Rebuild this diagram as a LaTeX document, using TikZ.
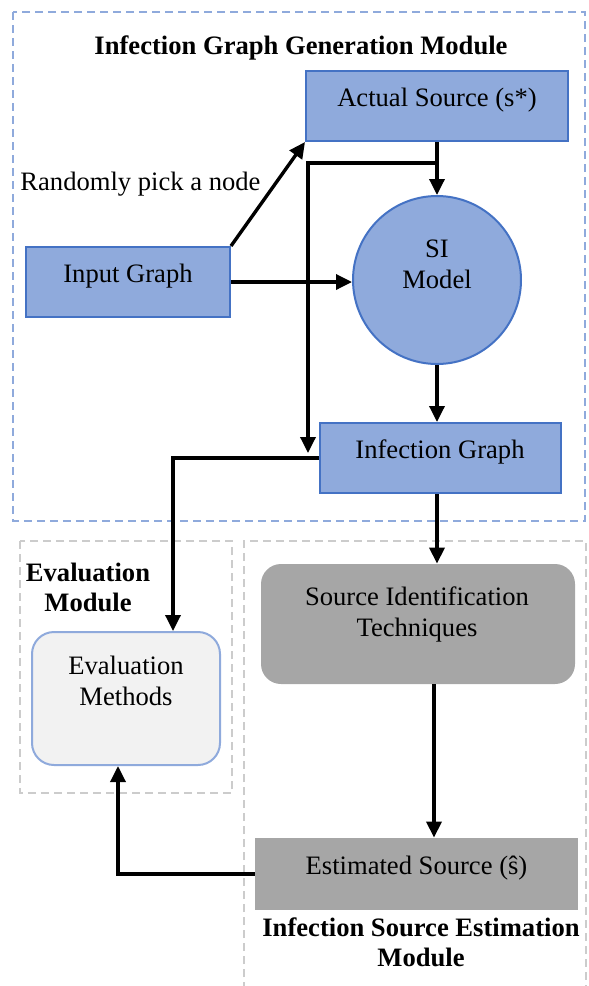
\documentclass[tikz,border=0pt]{standalone}
\usepackage{fontspec}
\setmainfont{Liberation Serif}
\usepackage{tikz}
\usetikzlibrary{shapes.geometric,arrows.meta}
\usetikzlibrary{positioning}
\usepackage{xcolor}
\definecolor{boxblue}{HTML}{8FAADC}
\definecolor{edgeblue}{HTML}{4472C4}
\definecolor{boxgray}{HTML}{A6A6A6}
\definecolor{dashgray}{HTML}{CCCCCC}
\definecolor{evalfill}{HTML}{F2F2F2}

\begin{document}
\begin{tikzpicture}[
  x=0.5pt, y=-0.5pt,
  every node/.style={font=\fontsize{13.3pt}{15.5pt}\selectfont},
  >={Triangle[length=8pt,width=7.5pt]},
  flow/.style={->, line width=1.7pt},
  bluebox/.style={draw=edgeblue, fill=boxblue, line width=1pt, rectangle, text height=0.6em, text depth=0.6em},
  graybox/.style={fill=boxgray, rectangle, text height=0.6em, text depth=0.6em},
  simodel/.style={draw=edgeblue, fill=boxblue, line width=1pt, circle, minimum size=84pt, inner sep=0pt},
  techbox/.style={fill=boxgray, rectangle, rounded corners=10pt, minimum width=157pt, minimum height=60pt},
  evalbox/.style={draw=boxblue, fill=evalfill, line width=1pt, rectangle, rounded corners=11pt, minimum width=94pt, minimum height=66.5pt},
  caption/.style={align=center, inner sep=0pt},
  modtitle/.style={align=center, inner sep=0pt, font=\fontsize{13.3pt}{15pt}\selectfont\bfseries},
  bluedash/.style={draw=boxblue, line width=1pt, dash pattern=on 4pt off 2.5pt},
  graydash/.style={draw=dashgray, line width=1pt, dash pattern=on 4pt off 2.5pt}
]
\useasboundingbox (0,0) rectangle (589,986);

% module frames
\draw [bluedash] (13,12) rectangle (585,521);
\draw [graydash] (20,541) rectangle (232,793);
\draw [graydash] (244,990) -- (244,541) -- (586,541) -- (586,990);

\node [modtitle] (gentitle) at (301,48) {Infection Graph Generation Module};
\node [modtitle] (evaltitle) at (88,587) {Evaluation\\Module};
\node [modtitle] (esttitle) at (421,942) {Infection Source Estimation\\Module};

\node [bluebox, minimum width=131pt, minimum height=35pt] (actual) at (437,106) {Actual Source (s*)};
\node [bluebox, minimum width=102pt, minimum height=35pt] (input) at (128,282) {Input Graph};
\node [simodel] (si) at (437,280) {};
\node [caption] (sitext) at (437,264) {SI\\Model};
\node [bluebox, minimum width=120.5pt, minimum height=35pt] (infect) at (440,458) {Infection Graph};
\node [caption, anchor=west] (pick) at (20,184) {Randomly pick a node};

\node [techbox] (sit) at (418,624) {};
\node [caption] (sittext) at (417,614) {Source Identification\\Techniques};
\node [graybox, minimum width=161.5pt, minimum height=36pt] (est) at (416.5,874) {Estimated Source (ŝ)};
\node [evalbox] (evalm) at (126,698.5) {};
\node [caption] (evaltext) at (126,681) {Evaluation\\Methods};

\coordinate (split) at (437,163);
\coordinate (infin) at (308,453);

\draw [flow] (actual.south) -- (si.north);
\draw [flow] (split) -| (infin);
\draw [flow] (input.north east) -- (actual.south west);
\draw [flow] (input.east) -- (input.east -| si.west);
\draw [flow] (si.south) -- (si.south |- infect.north);
\draw [flow] (infect.south -| si.south) -- (sit.north -| si.south);
\draw [flow] (infect.west) -| ([xshift=23.5pt]evalm.north);
\draw [flow] ([xshift=8pt]sit.south) -- ([xshift=8pt]sit.south |- est.north);
\draw [flow] (est.west) -| ([xshift=-4pt]evalm.south);
\end{tikzpicture}
\end{document}
